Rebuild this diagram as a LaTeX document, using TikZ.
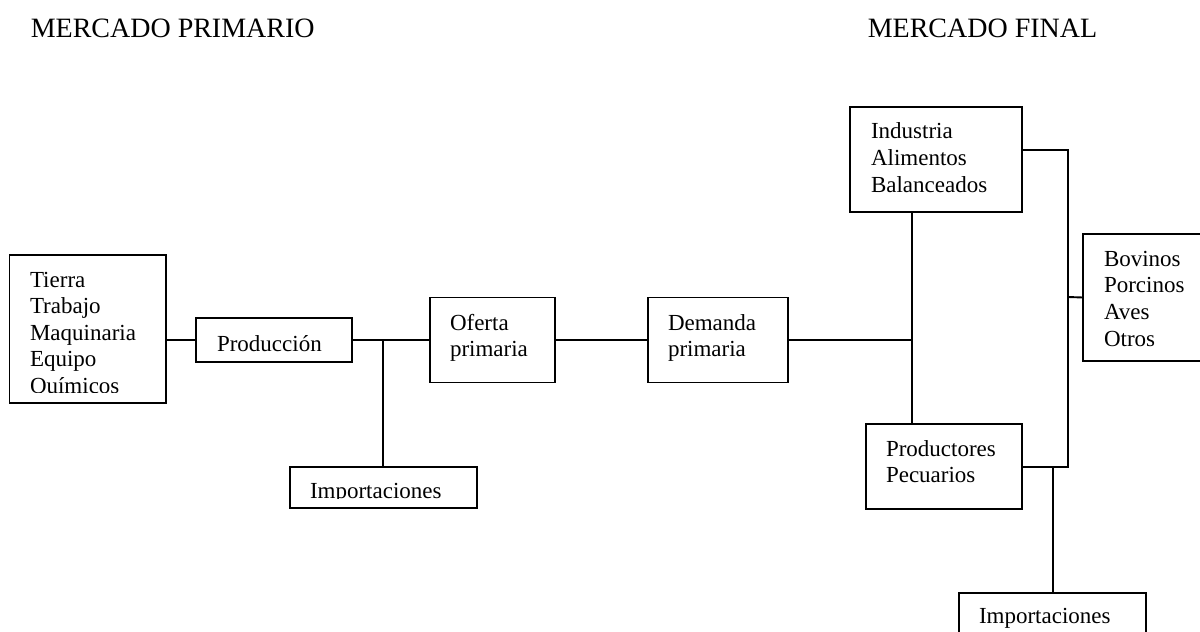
\documentclass[tikz,border=0pt]{standalone}
\usepackage{fontspec}
\setmainfont{Liberation Serif}
\begin{document}
\begin{tikzpicture}[x=1pt,y=-1pt,line width=1.5pt,
  box/.style={draw=black,line width=1.5pt,inner sep=0pt,outer sep=0pt},
  txt/.style={anchor=base west,inner sep=0pt,outer sep=0pt,align=left,font=\fontsize{23}{26.6}\selectfont},
  ttl/.style={anchor=base west,inner sep=0pt,font=\fontsize{28}{32}\selectfont},
  conn/.style={draw=black,line width=1.9pt}]
\clip (0,0) rectangle (1200,632);
\fill[white] (0,0) rectangle (1200,632);
% titles
\node[ttl] (t1) at (30,37) {MERCADO PRIMARIO};
\node[ttl] (t2) at (867,37) {MERCADO FINAL};
% boxes
\node[box,minimum width=156.5pt,minimum height=148pt] (ins) at (87.75,329) {};
\node[box,minimum width=156pt,minimum height=44pt] (pro) at (274,340) {};
\node[box,minimum width=125pt,minimum height=85pt] (ofe) at (492.5,340) {};
\node[box,minimum width=140pt,minimum height=85pt] (dem) at (718,340) {};
\node[box,minimum width=187pt,minimum height=41pt] (imp1) at (383.5,487.5) {};
\node[box,minimum width=172pt,minimum height=105pt] (ind) at (936,159.5) {};
\node[box,minimum width=156pt,minimum height=85pt] (pec) at (944,466.5) {};
\node[box,minimum width=140pt,minimum height=127pt] (bov) at (1153,297.5) {};
\node[box,minimum width=187pt,minimum height=60pt] (imp2) at (1052.5,623) {};
% texts (anchor = baseline of last line)
\begin{scope}
\clip (10,256) rectangle (165,392);
\node[txt] (ins-t) at (30,393.5) {Tierra\\Trabajo\\Maquinaria\\Equipo\\Químicos};
\end{scope}
\node[txt] (pro-t) at (217,351) {Producción};
\node[txt] (ofe-t) at (450,356.6) {Oferta\\primaria};
\node[txt] (dem-t) at (668,356.6) {Demanda\\primaria};
\begin{scope}
\clip (291,468) rectangle (476,498.5);
\node[txt] (imp1-t) at (310,498.5) {Importaciones};
\end{scope}
\node[txt] (ind-t) at (871,192) {Industria\\Alimentos\\Balanceados};
\node[txt] (bov-t) at (1104,346) {Bovinos\\Porcinos\\Aves\\Otros};
\node[txt] (pec-t) at (886,482.6) {Productores\\Pecuarios};
\node[txt] (imp2-t) at (979,623) {Importaciones};
% connector coordinates
\coordinate (j1) at (383,340);
\coordinate (j2) at (912,340);
\coordinate (c1) at (1068,150);
\coordinate (c2) at (1068,467);
\coordinate (c3) at (1068,297);
\coordinate (j3) at (1053,467);
% connectors
\draw[conn] (pro.west) -- (pro.west -| ins.east);
\draw[conn] (pro.east) -- (ofe.west);
\draw[conn] (j1) -- (imp1.north -| j1);
\draw[conn] (ofe.east) -- (dem.west);
\draw[conn] (dem.east) -- (j2);
\draw[conn] (ind.south -| j2) -- (pec.north -| j2);
\draw[conn] (ind.east |- c1) -- (c1) -- (c2) -- (pec.east |- c2);
\draw[conn] (c3) -- (bov.west);
\draw[conn] (j3) -- (imp2.north -| j3);
\end{tikzpicture}
\end{document}
